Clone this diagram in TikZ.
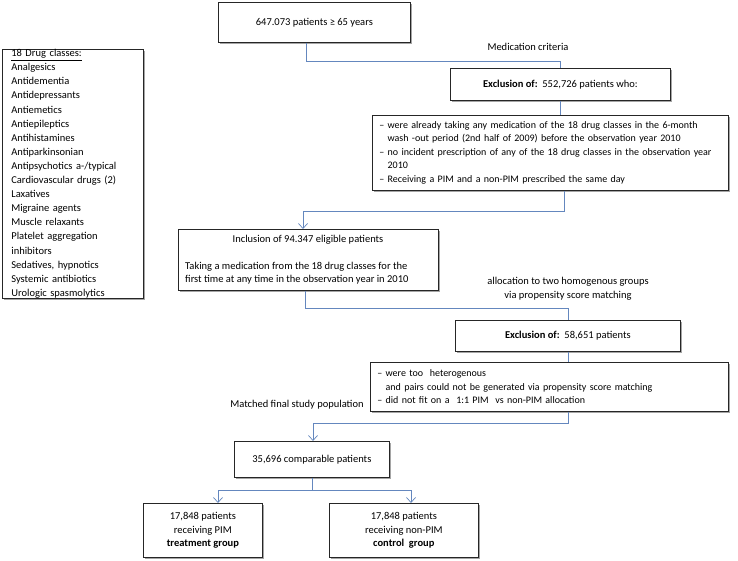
\documentclass[tikz,border=0pt]{standalone}
\usepackage{fontspec}
\setmainfont{Carlito}
\usetikzlibrary{arrows.meta,shadows}
\definecolor{lineblue}{RGB}{100,135,190}
\begin{document}
\begin{tikzpicture}[x=1pt,y=-1pt,
  every node/.style={font=\fontsize{10.5}{13.6}\selectfont},
  box/.style={draw=black!85, line width=0.7pt, fill=white,
    drop shadow={shadow xshift=1.8pt, shadow yshift=-1.8pt, fill=black!50, opacity=0.7},
    inner sep=0pt, anchor=north west, align=center},
  lbox/.style={box, align=left, inner xsep=7pt, font=\fontsize{10}{13.5}\selectfont},
  conn/.style={draw=lineblue, line width=0.7pt},
  arr/.style={conn, -{Straight Barb[length=5pt, width=9pt]}},
  lbl/.style={inner sep=0pt, align=center}
]
\fill[white] (0,0) rectangle (738,561);
\useasboundingbox (0,0) rectangle (738,561);

% drug classes
\node[lbox, inner xsep=9pt, minimum width=141pt, minimum height=247pt, text width=123pt,
  font=\fontsize{10.5}{14.1}\selectfont] (drugs) at (2,49)
 {\underline{18 Drug classes:}\\
  Analgesics\\ Antidementia\\ Antidepressants\\ Antiemetics\\ Antiepileptics\\
  Antihistamines\\ Antiparkinsonian\\ Antipsychotics a-/typical\\
  Cardiovascular drugs (2)\\ Laxatives\\ Migraine agents\\ Muscle relaxants\\
  Platelet aggregation\\ inhibitors\\ Sedatives, hypnotics\\ Systemic antibiotics\\
  Urologic spasmolytics};

% main flow
\node[box, minimum width=192pt, minimum height=40pt] (top) at (218,2) {647.073 patients ≥ 65 years};
\node[lbl] (medcrit) at (528,47) {Medication criteria};
\node[box, minimum width=220pt, minimum height=32pt] (exc1) at (450,68) {\textbf{Exclusion of:}\ \ 552,726 patients who:};
\node[lbox, minimum width=356pt, minimum height=75pt, text width=342pt] (crit1) at (372,115)
 {– were already taking any medication of the 18 drug classes in the 6-month\\
  \phantom{– }wash -out period (2nd half of 2009) before the observation year 2010\\
  – no incident prescription of any of the 18 drug classes in the observation year\\
  \phantom{– }2010\\
  – Receiving a PIM and a non-PIM prescribed the same day};

\node[box, minimum width=260pt, minimum height=61pt] (incl) at (178,229) {};
\node[lbl] (incltitle) at (308,240) {Inclusion of 94.347 eligible patients};
\node[lbl, anchor=west, align=left] (inclbody) at (185,273)
 {Taking a medication from the 18 drug classes for the\\
  first time at any time in the observation year in 2010};

\node[lbl] (alloc) at (568,289) {allocation to two homogenous groups\\via propensity score matching};
\node[box, minimum width=225pt, minimum height=31pt] (exc2) at (455,320) {\textbf{Exclusion of:}\ \ 58,651 patients};
\node[lbox, minimum width=358pt, minimum height=49pt, text width=344pt] (crit2) at (370,362)
 {– were too\ \ heterogenous\\
  \phantom{– }and pairs could not be generated via propensity score matching\\
  – did not fit on a\ \ 1:1 PIM\ \ vs non-PIM allocation};

\node[lbl] (matched) at (297,405) {Matched final study population};
\node[box, minimum width=155pt, minimum height=36pt] (pop) at (234,441) {35,696 comparable patients};
\node[box, minimum width=119pt, minimum height=54pt] (pim) at (143,503)
 {17,848 patients\\receiving PIM\\\textbf{treatment group}};
\node[box, minimum width=149pt, minimum height=54pt] (npim) at (329,503)
 {17,848 patients\\receiving non-PIM\\\textbf{control\ \ group}};

% connector bend points
\coordinate (c1) at (306,61);
\coordinate (c3) at (564,211);
\coordinate (c4) at (303,211);
\coordinate (c5) at (305,308);
\coordinate (c6) at (313,423);
\coordinate (c7) at (312,490);
\coordinate (c8) at (218,490);
\coordinate (c9) at (411,490);

\draw[conn] (top.south -| c1) -- (c1) -| (exc1.north);
\draw[conn] (exc1.south) -- (exc1.south |- crit1.north);
\draw[arr] (crit1.south -| c3) -- (c3) -- (c4) -- (c4 |- incl.north);
\draw[conn] (incl.south -| c5) -- (c5) -| (exc2.north);
\draw[conn] (exc2.south) -- (exc2.south |- crit2.north);
\draw[arr] (crit2.south -| exc2.south) |- (c6) -- (c6 |- pop.north);
\draw[conn] (pop.south -| c7) -- (c7);
\draw[arr] (c7) -- (c8) -- (c8 |- pim.north);
\draw[arr] (c7) -- (c9) -- (c9 |- npim.north);
\end{tikzpicture}
\end{document}
